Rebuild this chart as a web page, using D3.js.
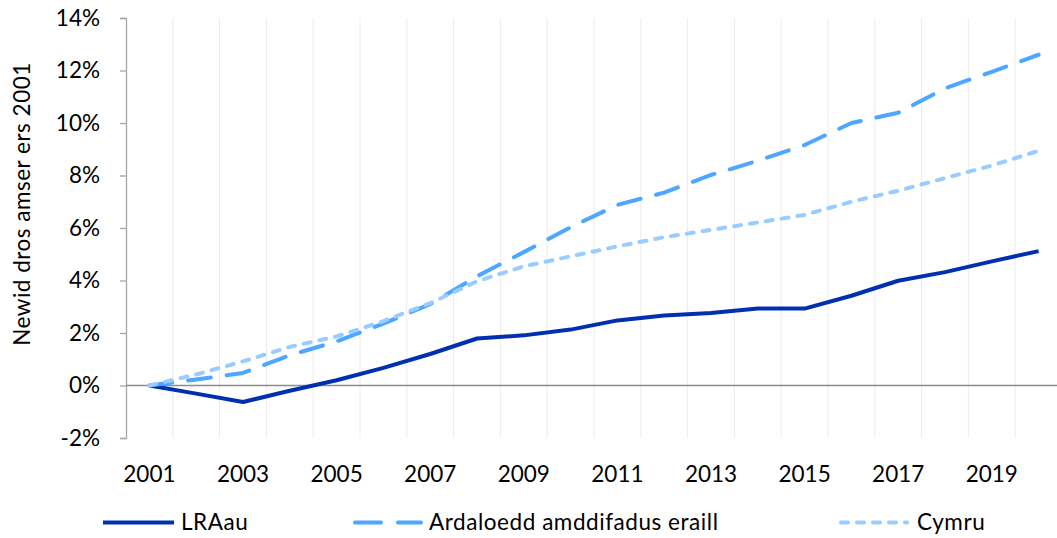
<!DOCTYPE html>
<html>
<head>
<meta charset="utf-8">
<script src="https://cdn.jsdelivr.net/npm/d3@7"></script>
<style>
  body { margin: 0; background: #fff; }
  text { font-family: Lato, "Open Sans", sans-serif; fill: #000; }
</style>
</head>
<body>
<div id="canvas"></div>
<script>
"use strict"

/* data (percent change since 2001) */
let years = d3.range(2001, 2021);
let lraau = [0, -0.31, -0.63, -0.2, 0.2, 0.67, 1.2, 1.79, 1.91, 2.13, 2.48, 2.67, 2.76, 2.93, 2.93, 3.42, 3.99, 4.32, 4.73, 5.12];
let ardaloedd = [0, 0.23, 0.48, 1.15, 1.68, 2.36, 3.1, 4.16, 5.08, 6.03, 6.88, 7.35, 8.02, 8.56, 9.16, 10.0, 10.39, 11.32, 11.95, 12.6];
let cymru = [0, 0.42, 0.92, 1.47, 1.87, 2.45, 3.14, 3.97, 4.54, 4.92, 5.3, 5.65, 5.93, 6.21, 6.5, 7.0, 7.42, 7.9, 8.38, 8.94];
let yTicks = [-2, 0, 2, 4, 6, 8, 10, 12, 14];
let seriesNames = ["LRAau", "Ardaloedd amddifadus eraill", "Cymru"];

let drawing = d3.select("#canvas")
    .append("svg")
    .attr("width", 1057)
    .attr("height", 538);

let x = d3.scaleBand()
    .domain(years)
    .range([126, 1062])
    .padding(0);

let y = d3.scaleLinear()
    .domain([-2, 14])
    .range([438, 18]);

let xc = d => x(d) + x.bandwidth() / 2;

/* vertical gridlines between categories */
drawing.append("g")
    .selectAll("line")
    .data(years.slice(1))
    .join("line")
    .attr("x1", d => x(d))
    .attr("x2", d => x(d))
    .attr("y1", y(14))
    .attr("y2", y(-2))
    .attr("stroke", "#ececec")
    .attr("stroke-width", 1);

/* y axis */
let yAxis = drawing.append("g")
    .attr("transform", "translate(126,0)")
    .call(d3.axisLeft(y).tickValues(yTicks).tickSize(6).tickPadding(20)
        .tickFormat(d => d + "%"));
yAxis.select(".domain").attr("stroke", "#a6a6a6").attr("stroke-width", 1.3);
yAxis.selectAll(".tick line").attr("stroke", "#a6a6a6").attr("stroke-width", 1.3);
yAxis.selectAll(".tick text")
    .style("font-family", "Lato, sans-serif")
    .style("font-size", "22.5px")
    .attr("fill", "#000");

/* category axis at 0% */
drawing.append("line")
    .attr("x1", 126)
    .attr("x2", 1062)
    .attr("y1", y(0))
    .attr("y2", y(0))
    .attr("stroke", "#8c8c8c")
    .attr("stroke-width", 1.3);

/* x labels, odd years only, at the bottom */
drawing.append("g")
    .selectAll("text")
    .data(years.filter(d => d % 2 === 1))
    .join("text")
    .attr("x", d => xc(d))
    .attr("y", 482)
    .attr("text-anchor", "middle")
    .style("font-size", "22.5px")
    .text(d => d);

/* y axis title */
drawing.append("text")
    .attr("transform", "translate(30,204) rotate(-90)")
    .attr("text-anchor", "middle")
    .style("font-size", "22.5px")
    .style("letter-spacing", "0.5px")
    .text("Newid dros amser ers 2001");

/* lines */
let lineGen = d3.line()
    .x((d, i) => xc(years[i]))
    .y(d => y(d));

let styles = [
    { color: "#0030b0", dash: null },
    { color: "#4da6ff", dash: "23,16" },
    { color: "#99ccff", dash: "7,9" }
];
let allSeries = [lraau, ardaloedd, cymru];

allSeries.forEach((vals, i) => {
    drawing.append("path")
        .datum(vals)
        .attr("d", lineGen)
        .attr("fill", "none")
        .attr("stroke", styles[i].color)
        .attr("stroke-width", 4)
        .attr("stroke-linecap", styles[i].dash ? "round" : "butt")
        .attr("stroke-linejoin", "round")
        .attr("stroke-dasharray", styles[i].dash);
});

/* legend */
let legendX = [103, 355, 841];
let legendDash = [null, "26,17", "7,9"];
let legend = drawing.append("g")
    .selectAll("g")
    .data(seriesNames)
    .join("g")
    .attr("transform", (d, i) => "translate(" + legendX[i] + ",522.5)");

legend.append("line")
    .attr("x1", 0)
    .attr("x2", (d, i) => i === 0 ? 71 : 66)
    .attr("y1", 0)
    .attr("y2", 0)
    .attr("stroke", (d, i) => styles[i].color)
    .attr("stroke-width", 4)
    .attr("stroke-linecap", (d, i) => i === 0 ? "butt" : "round")
    .attr("stroke-dasharray", (d, i) => legendDash[i]);

legend.append("text")
    .attr("x", (d, i) => [78, 74, 76][i])
    .attr("y", 0)
    .attr("dy", "0.35em")
    .style("font-size", "22.5px")
    .style("letter-spacing", "0.55px")
    .text(d => d);
</script>
</body>
</html>
